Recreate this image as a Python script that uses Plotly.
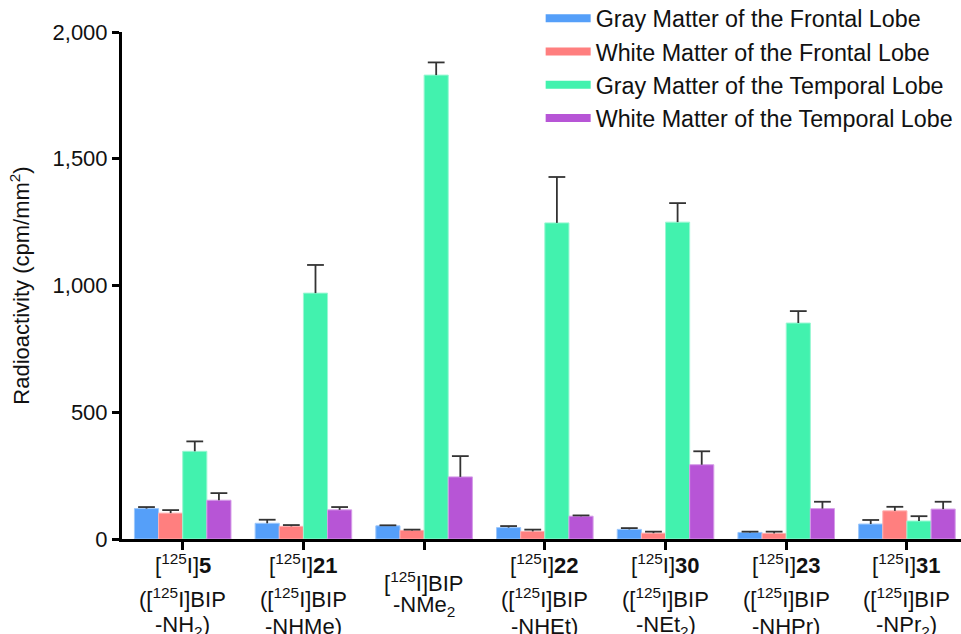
import plotly.graph_objects as go

categories = [0, 1, 2, 3, 4, 5, 6]
label_line1 = ["[<sup>125</sup>I]<b>5</b>", "[<sup>125</sup>I]<b>21</b>", "[<sup>125</sup>I]BIP",
               "[<sup>125</sup>I]<b>22</b>", "[<sup>125</sup>I]<b>30</b>", "[<sup>125</sup>I]<b>23</b>",
               "[<sup>125</sup>I]<b>31</b>"]
label_line2 = ["([<sup>125</sup>I]BIP", "([<sup>125</sup>I]BIP", "-NMe<sub>2</sub>",
               "([<sup>125</sup>I]BIP", "([<sup>125</sup>I]BIP", "([<sup>125</sup>I]BIP",
               "([<sup>125</sup>I]BIP"]
label_line3 = ["-NH<sub>2</sub>)", "-NHMe)", "", "-NHEt)", "-NEt<sub>2</sub>)", "-NHPr)",
               "-NPr<sub>2</sub>)"]

series_names = ["Gray Matter of the Frontal Lobe", "White Matter of the Frontal Lobe",
                "Gray Matter of the Temporal Lobe", "White Matter of the Temporal Lobe"]
gray_frontal = [120, 62, 52, 45, 38, 26, 59]
gray_frontal_err = [6, 14, 2, 6, 5, 3, 16]
white_frontal = [102, 50, 34, 30, 23, 22, 111]
white_frontal_err = [12, 5, 3, 7, 6, 7, 16]
gray_temporal = [346, 970, 1830, 1247, 1250, 852, 71]
gray_temporal_err = [39, 111, 50, 181, 75, 47, 19]
white_temporal = [153, 115, 245, 90, 293, 120, 118]
white_temporal_err = [28, 11, 82, 3, 53, 27, 29]

colors = ["#559FF9", "#FF7F7F", "#42F2AE", "#B755D6"]
edge_colors = ["#9CC7FB", "#FFB0B0", "#9BF7D3", "#D59CE8"]

values = [gray_frontal, white_frontal, gray_temporal, white_temporal]
errors = [gray_frontal_err, white_frontal_err, gray_temporal_err, white_temporal_err]

FONT = "Liberation Sans, Arial, sans-serif"
BARGAP = 0.2
n_series = len(values)
slot = (1 - BARGAP) / n_series

fig = go.Figure()
for name, v, e, c, ec in zip(series_names, values, errors, colors, edge_colors):
    fig.add_trace(go.Bar(
        x=categories, y=v, name=name, showlegend=False,
        marker=dict(color=c, line=dict(color=ec, width=1)),
        error_y=dict(type="data", array=e, arrayminus=[0] * len(e), symmetric=False,
                     color="#333333", thickness=1.8, width=0),
    ))
# error-bar caps at the upper end only
for j, (v, e) in enumerate(zip(values, errors)):
    fig.add_trace(go.Scatter(
        x=[c + (j - (n_series - 1) / 2) * slot for c in categories],
        y=[a + b for a, b in zip(v, e)],
        mode="markers", showlegend=False, hoverinfo="skip",
        marker=dict(symbol="line-ew", size=12, color="#333333",
                    line=dict(color="#333333", width=1.8)),
    ))
# legend entries with wide rectangular swatches
for i, (name, c) in enumerate(zip(series_names, colors)):
    fig.add_trace(go.Scatter(
        x=[None], y=[None], mode="lines", name=name, legendgroup=f"g{i}",
        line=dict(color=c, width=8), showlegend=True,
    ))

annotations = []
for i, cat in enumerate(categories):
    lines = [label_line1[i], label_line2[i], label_line3[i]]
    if label_line3[i] == "":
        ys = [582, 606]
    else:
        ys = [564, 598, 626]
    for txt, py in zip(lines, ys):
        if not txt:
            continue
        annotations.append(dict(
            x=cat, xref="x", y=(539 - py) / 507, yref="paper",
            text=txt, showarrow=False, xanchor="center", yanchor="middle",
            font=dict(family=FONT, size=22, color="#111111"),
        ))

fig.update_layout(
    width=961, height=634,
    margin=dict(l=122, r=0, t=32, b=95, pad=0, autoexpand=False),
    paper_bgcolor="white", plot_bgcolor="white",
    barmode="group", bargap=BARGAP, bargroupgap=0,
    font=dict(family=FONT, size=21, color="#111111"),
    showlegend=True,
    legend=dict(
        x=0.499, xanchor="left", y=1.07, yanchor="top",
        font=dict(family=FONT, size=23.3, color="#111111"),
        itemwidth=45, tracegroupgap=0, bgcolor="rgba(0,0,0,0)",
        traceorder="normal",
    ),
    xaxis=dict(
        range=[-0.503, 6.448], tickvals=categories,
        showline=True, linecolor="black", linewidth=3,
        ticks="outside", ticklen=8, tickwidth=3, tickcolor="black",
        showticklabels=False, showgrid=False, zeroline=False,
    ),
    yaxis=dict(
        range=[0, 2000], tickvals=[0, 500, 1000, 1500, 2000], tickformat=",",
        showline=True, linecolor="black", linewidth=3,
        ticks="outside", ticklen=7, tickwidth=3, tickcolor="black",
        showgrid=False, zeroline=False,
        tickfont=dict(family=FONT, size=22, color="#111111"),
        title=dict(text="Radioactivity (cpm/mm<sup>2</sup>)", standoff=17,
                   font=dict(family=FONT, size=22, color="#111111")),
    ),
    annotations=annotations,
)

fig.write_html("out.html")
